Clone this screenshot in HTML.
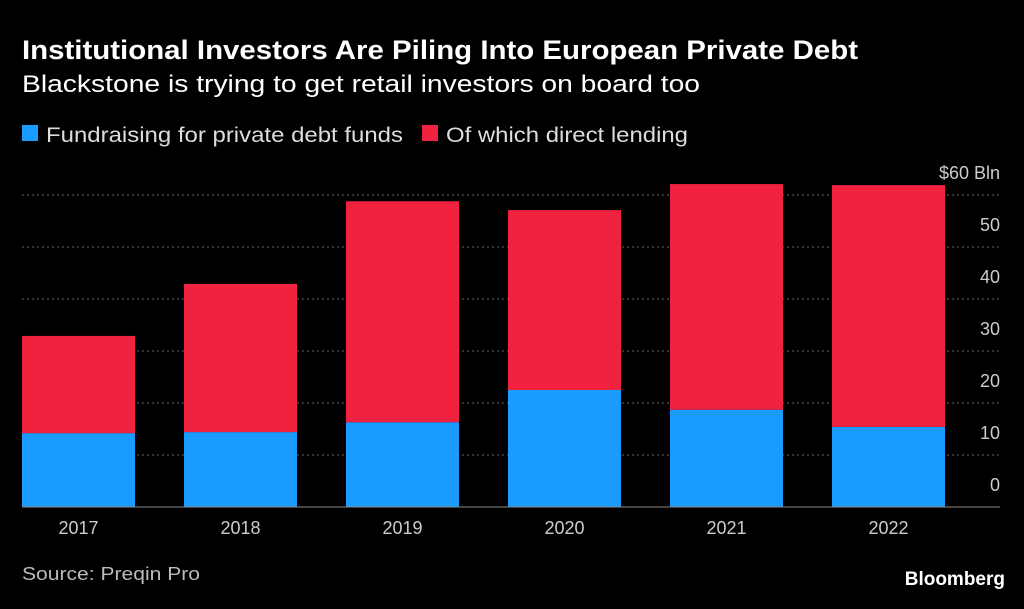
<!DOCTYPE html>
<html><head><meta charset="utf-8"><style>
body{margin:0;background:#000;width:1024px;height:604px;overflow:hidden;font-family:"Liberation Sans",sans-serif;color:#fff}
</style></head><body>
<svg width="1024" height="604" xmlns="http://www.w3.org/2000/svg">
<text x="22" y="59" font-size="27" font-weight="bold" fill="#fff" textLength="836" lengthAdjust="spacingAndGlyphs">Institutional Investors Are Piling Into European Private Debt</text>
<text x="22" y="92" font-size="24" fill="#fff" textLength="678" lengthAdjust="spacingAndGlyphs">Blackstone is trying to get retail investors on board too</text>
<g>
<rect x="22" y="125" width="16" height="16" fill="#1a9cff"/>
<text x="46" y="142" font-size="21" fill="#ddd" textLength="357" lengthAdjust="spacingAndGlyphs">Fundraising for private debt funds</text>
<rect x="422" y="125" width="16" height="16" fill="#f0223f"/>
<text x="446" y="142" font-size="21" fill="#ddd" textLength="242" lengthAdjust="spacingAndGlyphs">Of which direct lending</text>
</g>
<g id="grid"></g><g id="bars"></g><g id="axes"></g>
<text x="22" y="580" font-size="18" fill="#bbb" textLength="178" lengthAdjust="spacingAndGlyphs">Source: Preqin Pro</text>
<text x="1005" y="585" font-size="19" font-weight="bold" fill="#fff" text-anchor="end">Bloomberg</text>
</svg>
<script>
const categories=["2017","2018","2019","2020","2021","2022"];
const blueValues=[14.2,14.4,16.3,22.5,18.7,15.4];
const redValues=[18.7,28.5,42.5,34.6,43.4,46.5];
const yTicks=[0,10,20,30,40,50,60];
const yTickLabels=["0","10","20","30","40","50","$60 Bln"];
const NS="http://www.w3.org/2000/svg";
const y0=507,pxPer=5.2;
const y=v=>y0-v*pxPer;
const x=i=>22+i*162;
const bw=113;
function mk(tag,attrs,parent){const e=document.createElementNS(NS,tag);for(const k in attrs)e.setAttribute(k,attrs[k]);document.getElementById(parent).appendChild(e);return e;}
yTicks.forEach((t,i)=>{
  if(t>0){const l=mk('line',{x1:22,x2:1000,y1:y(t),y2:y(t),stroke:'#666','stroke-dasharray':'2,3'},'grid');
  
  }
  const tx=mk('text',{x:1000,y:y(t)-16,'font-size':18,fill:'#ccc','text-anchor':'end'},'axes');
  tx.textContent=yTickLabels[i];
  
  
});
categories.forEach((c,i)=>{
  const b=mk('rect',{x:x(i),y:y(blueValues[i]),width:bw,height:blueValues[i]*pxPer,fill:'#1a9cff'},'bars');
  
  
  const tot=blueValues[i]+redValues[i];
  const r=mk('rect',{x:x(i),y:y(tot),width:bw,height:redValues[i]*pxPer,fill:'#f0223f'},'bars');
  
  
  const t=mk('text',{x:x(i)+bw/2,y:534,'font-size':18,fill:'#ccc','text-anchor':'middle'},'axes');
  t.textContent=c;
  
  
});
const base=mk('line',{x1:22,x2:1000,y1:y0,y2:y0,stroke:'#888','stroke-width':1},'axes');


</script>
</body></html>
